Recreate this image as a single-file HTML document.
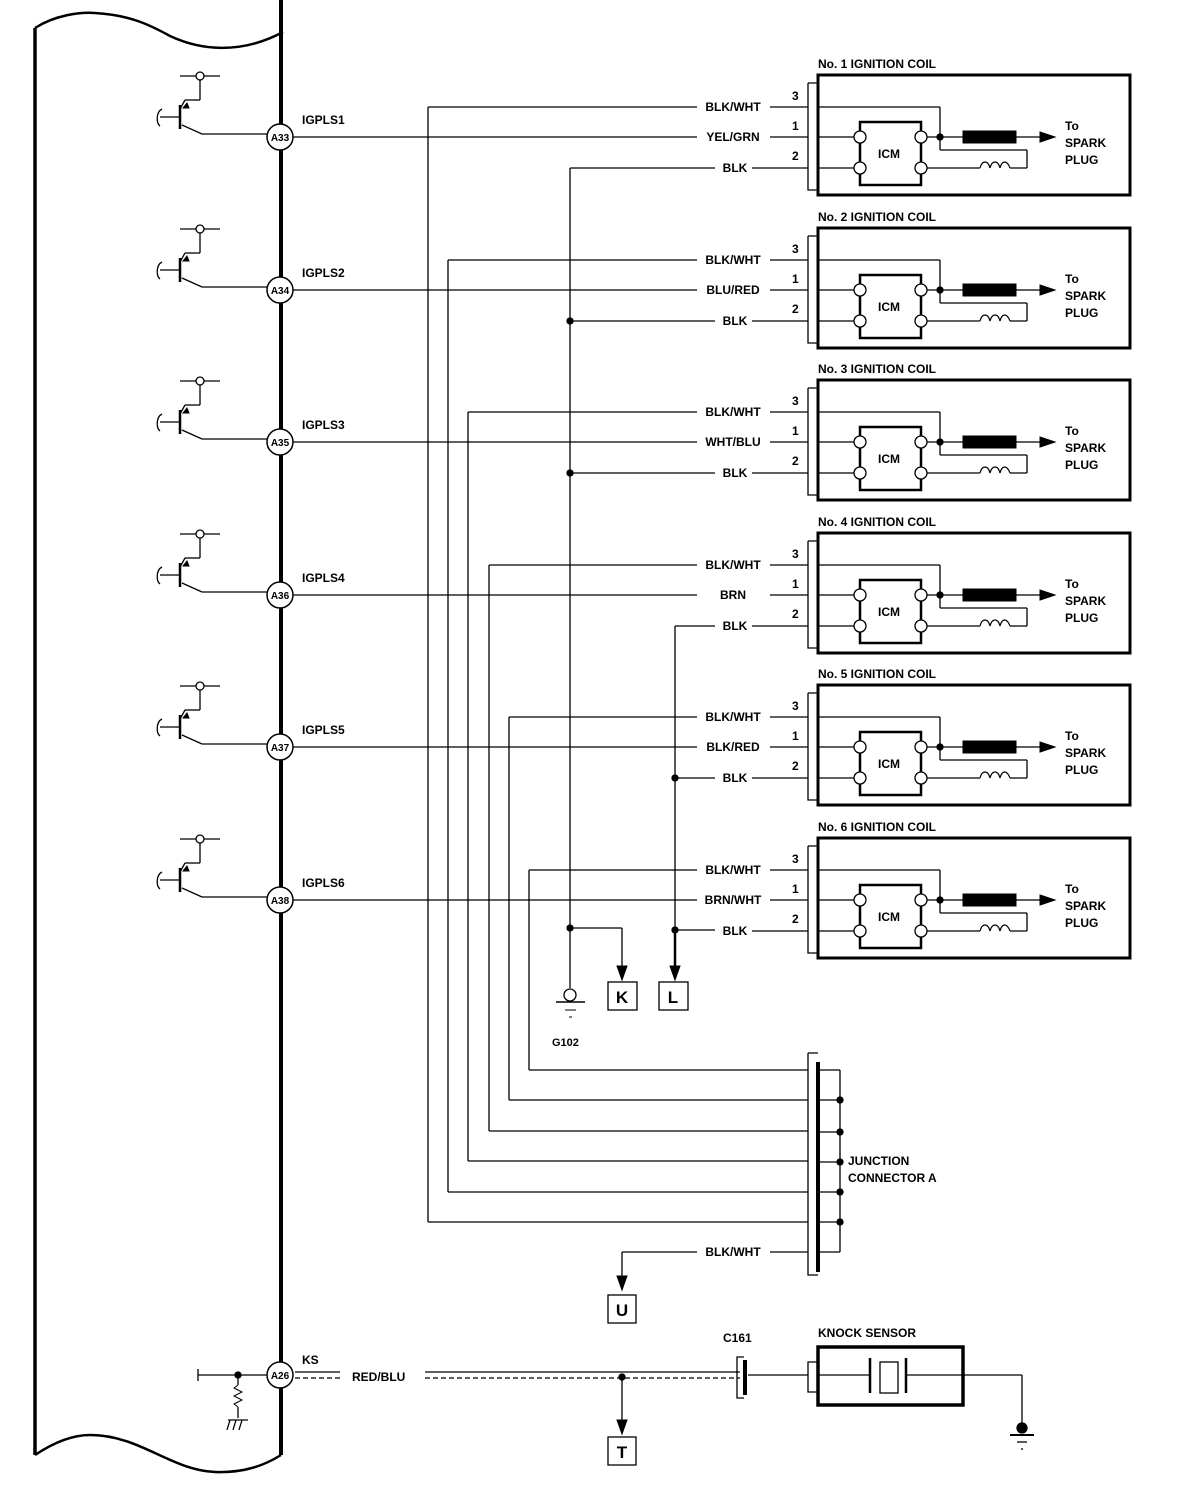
<!DOCTYPE html>
<html><head><meta charset="utf-8"><style>
html,body{margin:0;padding:0;background:#fff;}
svg{display:block}
text{font-family:"Liberation Sans",sans-serif;font-weight:bold;fill:#000;}
.l{font-size:12px}
</style></head><body>
<svg id="s" width="1184" height="1504" viewBox="0 0 1184 1504" xmlns="http://www.w3.org/2000/svg">
<g id="g" fill="none" stroke="#000" stroke-width="1.3"></g>
<g class="l">
<text x="302" y="124">IGPLS1</text><text x="302" y="277">IGPLS2</text><text x="302" y="429">IGPLS3</text><text x="302" y="582">IGPLS4</text><text x="302" y="734">IGPLS5</text><text x="302" y="887">IGPLS6</text>
<g text-anchor="middle" font-size="10">
<text x="280" y="141">A33</text><text x="280" y="294">A34</text><text x="280" y="446">A35</text><text x="280" y="599">A36</text><text x="280" y="751">A37</text><text x="280" y="904">A38</text><text x="280" y="1379">A26</text>
</g>
<g text-anchor="middle">
<text x="733" y="111">BLK/WHT</text><text x="733" y="141">YEL/GRN</text><text x="735" y="172">BLK</text>
<text x="733" y="264">BLK/WHT</text><text x="733" y="294">BLU/RED</text><text x="735" y="325">BLK</text>
<text x="733" y="416">BLK/WHT</text><text x="733" y="446">WHT/BLU</text><text x="735" y="477">BLK</text>
<text x="733" y="569">BLK/WHT</text><text x="733" y="599">BRN</text><text x="735" y="630">BLK</text>
<text x="733" y="721">BLK/WHT</text><text x="733" y="751">BLK/RED</text><text x="735" y="782">BLK</text>
<text x="733" y="874">BLK/WHT</text><text x="733" y="904">BRN/WHT</text><text x="735" y="935">BLK</text>
<text x="733" y="1256">BLK/WHT</text>
</g>
<g>
<text x="792" y="100">3</text><text x="792" y="130">1</text><text x="792" y="160">2</text>
<text x="792" y="253">3</text><text x="792" y="283">1</text><text x="792" y="313">2</text>
<text x="792" y="405">3</text><text x="792" y="435">1</text><text x="792" y="465">2</text>
<text x="792" y="558">3</text><text x="792" y="588">1</text><text x="792" y="618">2</text>
<text x="792" y="710">3</text><text x="792" y="740">1</text><text x="792" y="770">2</text>
<text x="792" y="863">3</text><text x="792" y="893">1</text><text x="792" y="923">2</text>
</g>
<text x="818" y="68">No. 1 IGNITION COIL</text><text x="818" y="221">No. 2 IGNITION COIL</text><text x="818" y="373">No. 3 IGNITION COIL</text><text x="818" y="526">No. 4 IGNITION COIL</text><text x="818" y="678">No. 5 IGNITION COIL</text><text x="818" y="831">No. 6 IGNITION COIL</text>
<g text-anchor="middle"><text x="889" y="158">ICM</text><text x="889" y="311">ICM</text><text x="889" y="463">ICM</text><text x="889" y="616">ICM</text><text x="889" y="768">ICM</text><text x="889" y="921">ICM</text></g>
<g>
<text x="1065" y="130">To</text><text x="1065" y="147">SPARK</text><text x="1065" y="164">PLUG</text>
<text x="1065" y="283">To</text><text x="1065" y="300">SPARK</text><text x="1065" y="317">PLUG</text>
<text x="1065" y="435">To</text><text x="1065" y="452">SPARK</text><text x="1065" y="469">PLUG</text>
<text x="1065" y="588">To</text><text x="1065" y="605">SPARK</text><text x="1065" y="622">PLUG</text>
<text x="1065" y="740">To</text><text x="1065" y="757">SPARK</text><text x="1065" y="774">PLUG</text>
<text x="1065" y="893">To</text><text x="1065" y="910">SPARK</text><text x="1065" y="927">PLUG</text>
</g>
<text x="552" y="1046" font-size="11">G102</text>
<text x="848" y="1165">JUNCTION</text><text x="848" y="1182">CONNECTOR A</text>
<text x="302" y="1364">KS</text><text x="352" y="1381">RED/BLU</text>
<text x="723" y="1342">C161</text><text x="818" y="1337">KNOCK SENSOR</text>
<g font-size="17" text-anchor="middle"><text x="622" y="1003">K</text><text x="673" y="1003">L</text><text x="622" y="1316">U</text><text x="622" y="1458">T</text></g>
</g>
</svg>
<script>
var o='';
function L(a,b,c,d,w){o+='<line x1="'+a+'" y1="'+b+'" x2="'+c+'" y2="'+d+'"'+(w?' stroke-width="'+w+'"':'')+'/>';}
function P(d,w,f){o+='<path d="'+d+'"'+(w?' stroke-width="'+w+'"':'')+(f?' fill="'+f+'"':'')+'/>';}
function C(x,y,r,f,w){o+='<circle cx="'+x+'" cy="'+y+'" r="'+r+'" fill="'+(f||'#fff')+'"'+(w?' stroke-width="'+w+'"':'')+'/>';}
function R(x,y,w,h,sw,f){o+='<rect x="'+x+'" y="'+y+'" width="'+w+'" height="'+h+'"'+(sw?' stroke-width="'+sw+'"':'')+(f?' fill="'+f+'"':'')+'/>';}
function AR(x,y){P('M'+(x-5)+','+(y-14)+' L'+(x+5)+','+(y-14)+' L'+x+','+y+' Z',1,'#000');}
P('M35,28 C55,15 80,12 95,13 C130,15 150,25 170,36 C200,50 240,55 283,32',2.5);
L(35,28,35,1455,3.5);L(281,0,281,1455,4);
P('M35,1455 C50,1445 70,1435 90,1435 C140,1435 170,1470 215,1472 C245,1473 265,1465 281,1455',2.5);
for(var i=0;i<6;i++){
 var d=Math.round(152.5*i), w3=107+d,w1=137+d,w2=168+d,P0=137+d;
 L(180,P0-61,220,P0-61);C(200,P0-61,4);L(200,P0-57,200,P0-37);L(200,P0-37,185,P0-37);L(185,P0-37,180,P0-28);
 P('M183,'+(P0-29)+' l4,-5 l2,5 z',1,'#000');
 L(180,P0-32,180,P0-8,2.5);L(160,P0-20,180,P0-20);P('M162,'+(P0-28)+' C156,'+(P0-25)+' 156,'+(P0-14)+' 160,'+(P0-11));
 L(182,P0-12,202,P0-3);L(202,P0-3,267,P0-3);
 C(280,P0,13,'#fff',1.5);
 L(293,w1,697,w1);L(770,w1,808,w1);
 var tx=Math.round(428+20.2*i);
 L(tx,w3,697,w3);L(770,w3,808,w3);
 L(752,w2,808,w2);
 P('M808,'+(w3-24)+' L818,'+(w3-24)+' M808,'+(w3-24)+' L808,'+(w2+22)+' L818,'+(w2+22));
 R(818,75+d,312,120,3);
 L(818,w3,940,w3);L(940,w3,940,150+d);L(940,150+d,1027,150+d);L(1027,150+d,1027,168+d);
 L(1027,168+d,1010,168+d);P('M1010,'+(168+d)+' c-3,-8 -8,-8 -10,0 c-2,-8 -8,-8 -10,0 c-2,-8 -8,-8 -10,0',1.2);L(980,168+d,927,168+d);
 L(818,w1,854,w1);L(818,w2,854,w2);
 R(860,122+d,61,63,2.5,'#fff');
 C(860,w1,6);C(860,w2,6);C(921,w1,6);C(921,w2,6);
 L(927,w1,963,w1);C(940,w1,3,'#000');R(963,131+d,53,12,1,'#000');L(1016,w1,1042,w1);
 P('M1040,'+(w1-5)+' L1055,'+w1+' L1040,'+(w1+5)+' Z',1,'#000');
 var jy=Math.round(1222-30.4*i);
 L(tx,w3,tx,jy);L(tx,jy,808,jy);
}
L(570,168,715,168);L(570,168,570,988);
L(570,321,715,321);L(570,473,715,473);
C(570,321,3,'#000');C(570,473,3,'#000');C(570,928,3,'#000');
L(675,626,715,626);L(675,626,675,966,1.3);L(675,778,715,778);L(675,930,715,930);L(675,930,675,966,2.5);
C(675,778,3,'#000');C(675,930,3,'#000');AR(675,980);
L(570,928,622,928);L(622,928,622,966);AR(622,980);
R(608,982,29,28,1.3);R(659,982,29,28,1.3);
C(570,995,6);L(556,1002,585,1002,1.5);L(565,1010,576,1010,1);L(569,1017,572,1017,1);
P('M808,1053 L808,1275 L818,1275 M808,1053 L818,1053');L(818,1062,818,1272,4);
L(818,1070,840,1070);L(840,1070,840,1252);L(818,1252,840,1252);
[1100,1132,1162,1192,1222].forEach(function(y){L(818,y,840,y);C(840,y,3,'#000');});
L(770,1252,808,1252);L(622,1252,697,1252);L(622,1252,622,1276);AR(622,1290);R(608,1295,28,28,1.3);
L(198,1375,267,1375);L(198,1369,198,1381);C(238,1375,3,'#000');L(238,1375,238,1385);
P('M238,1385 l-4,3 l8,4 l-8,4 l8,4 l-8,4 l4,3',1);L(238,1407,238,1418);
L(228,1420,248,1420);L(230,1420,227,1430);L(236,1420,233,1430);L(242,1420,239,1430);
C(280,1375,13,'#fff',1.5);
L(295,1372,340,1372);o+='<line x1="295" y1="1378" x2="340" y2="1378" stroke-dasharray="5,3"/>';
L(425,1372,740,1372);o+='<line x1="425" y1="1378" x2="740" y2="1378" stroke-dasharray="5,3"/>';
C(622,1377,3,'#000');L(622,1377,622,1420);AR(622,1434);R(608,1437,28,28,1.3);
P('M744,1357 L737,1357 L737,1398 L744,1398');L(745,1360,745,1395,4);L(748,1375,808,1375);
P('M818,1362 L808,1362 L808,1392 L818,1392');R(818,1347,145,58,3.5);
L(818,1375,870,1375);L(870,1358,870,1393,2.5);R(880,1362,18,31,1.3);L(906,1358,906,1393,2.5);L(906,1375,1022,1375);
L(1022,1375,1022,1425);C(1022,1428,5,'#000');L(1010,1435,1034,1435,2);L(1017,1442,1027,1442);L(1021,1449,1023,1449);
document.getElementById('g').innerHTML=o;
</script>
</body></html>
